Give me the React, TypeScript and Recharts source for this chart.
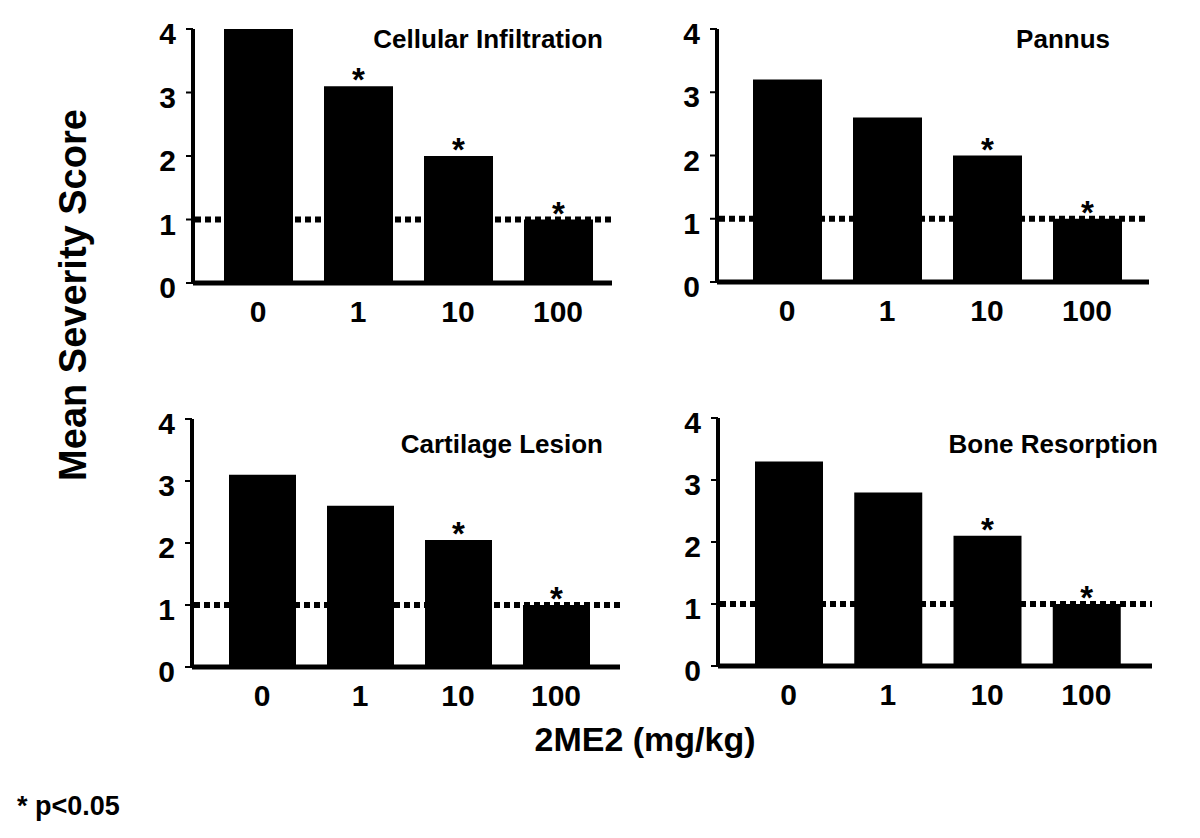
import { BarChart, Bar, XAxis, YAxis, ReferenceLine, LabelList } from 'recharts';

// doses of 2ME2 (mg/kg)
const doses = ['0', '1', '10', '100'];

// mean severity scores
const cellularInfiltration = [4.0, 3.1, 2.0, 1.0];
const pannus = [3.2, 2.6, 2.0, 1.0];
const cartilageLesion = [3.1, 2.6, 2.05, 1.0];
const boneResorption = [3.3, 2.8, 2.1, 1.0];

// p<0.05 markers
const cellularSig = [false, true, true, true];
const pannusSig = [false, false, true, true];
const cartilageSig = [false, false, true, true];
const boneSig = [false, false, true, true];

const yTicks = [0, 1, 2, 3, 4];
const normalScore = 1;

const FONT = '"Liberation Sans", Arial, sans-serif';

const panels = [
  { title: 'Cellular Infiltration', values: cellularInfiltration, sig: cellularSig, x0: 193, x1: 612, y0: 29, y1: 283, padL: 15, padR: 4, barSize: 69, titleX: 603, titleY: 48 },
  { title: 'Pannus', values: pannus, sig: pannusSig, x0: 717, x1: 1149, y0: 29, y1: 282, padL: 20, padR: 12, barSize: 69, titleX: 1110, titleY: 48 },
  { title: 'Cartilage Lesion', values: cartilageLesion, sig: cartilageSig, x0: 192, x1: 620, y0: 419, y1: 667, padL: 21, padR: 15, barSize: 67, titleX: 603, titleY: 453 },
  { title: 'Bone Resorption', values: boneResorption, sig: boneSig, x0: 718, x1: 1152, y0: 418, y1: 666, padL: 21, padR: 16, barSize: 68, titleX: 1158, titleY: 453 },
];

const Y_W = 60;
const TOP_M = 20;
const RIGHT_M = 10;
const X_H = 50;

const YTick = (props: any) => {
  const { x, y, payload } = props;
  return (
    <text x={x} y={y + 15} textAnchor="end" fontFamily={FONT} fontWeight="bold" fontSize={30} fill="#000">
      {payload.value}
    </text>
  );
};

const XTick = (props: any) => {
  const { x, y, payload } = props;
  return (
    <text x={x} y={y + 39} textAnchor="middle" fontFamily={FONT} fontWeight="bold" fontSize={30} fill="#000">
      {payload.value}
    </text>
  );
};

const Star = (props: any) => {
  const { x, y, width, value } = props;
  if (!value) return null;
  return (
    <text x={x + width / 2} y={y + 5} textAnchor="middle" fontFamily={FONT} fontWeight="bold" fontSize={33} fill="#000">
      *
    </text>
  );
};

function Panel({ p }: { p: any }) {
  const data = doses.map((d, i) => ({ dose: d, score: p.values[i], sig: p.sig[i] ? '*' : '' }));
  const w = p.x1 - p.x0 + Y_W + RIGHT_M;
  const h = p.y1 - p.y0 + TOP_M + X_H;
  return (
    <div style={{ position: 'absolute', left: p.x0 - Y_W, top: p.y0 - TOP_M, width: w, height: h }}>
      <BarChart width={w} height={h} data={data} margin={{ top: TOP_M, right: RIGHT_M, left: 0, bottom: 0 }}>
        <XAxis
          dataKey="dose"
          height={X_H}
          padding={{ left: p.padL, right: p.padR }}
          tickLine={false}
          tickSize={0}
          tickMargin={0}
          axisLine={{ stroke: '#000', strokeWidth: 5 }}
          tick={<XTick />}
          interval={0}
        />
        <YAxis
          width={Y_W}
          domain={[0, 4]}
          ticks={yTicks}
          tickSize={7}
          tickMargin={10}
          tickLine={{ stroke: '#000', strokeWidth: 2 }}
          axisLine={{ stroke: '#000', strokeWidth: 4 }}
          tick={<YTick />}
        />
        <Bar dataKey="score" fill="#000" barSize={p.barSize} isAnimationActive={false}>
          <LabelList dataKey="sig" content={<Star />} />
        </Bar>
        <ReferenceLine y={normalScore} stroke="#000" strokeWidth={6} strokeDasharray="6 4" strokeDashoffset={-2} />
      </BarChart>
    </div>
  );
}

export default function App() {
  return (
    <div style={{ position: 'absolute', left: 0, top: 0, width: 1200, height: 838, background: '#fff', overflow: 'hidden' }}>
      {panels.map((p) => (
        <Panel key={p.title} p={p} />
      ))}
      <svg width={1200} height={838} style={{ position: 'absolute', left: 0, top: 0, pointerEvents: 'none' }}>
        <g fontFamily={FONT} fontWeight="bold" fill="#000">
          {panels.map((p) => (
            <text key={p.title} x={p.titleX} y={p.titleY} textAnchor="end" fontSize={26}>
              {p.title}
            </text>
          ))}
          <text transform="translate(86,295) rotate(-90)" textAnchor="middle" fontSize={38}>
            Mean Severity Score
          </text>
          <text x={645} y={751} textAnchor="middle" fontSize={34}>
            2ME2 (mg/kg)
          </text>
          <text x={17} y={815} fontSize={27}>
            * p&lt;0.05
          </text>
        </g>
      </svg>
    </div>
  );
}
